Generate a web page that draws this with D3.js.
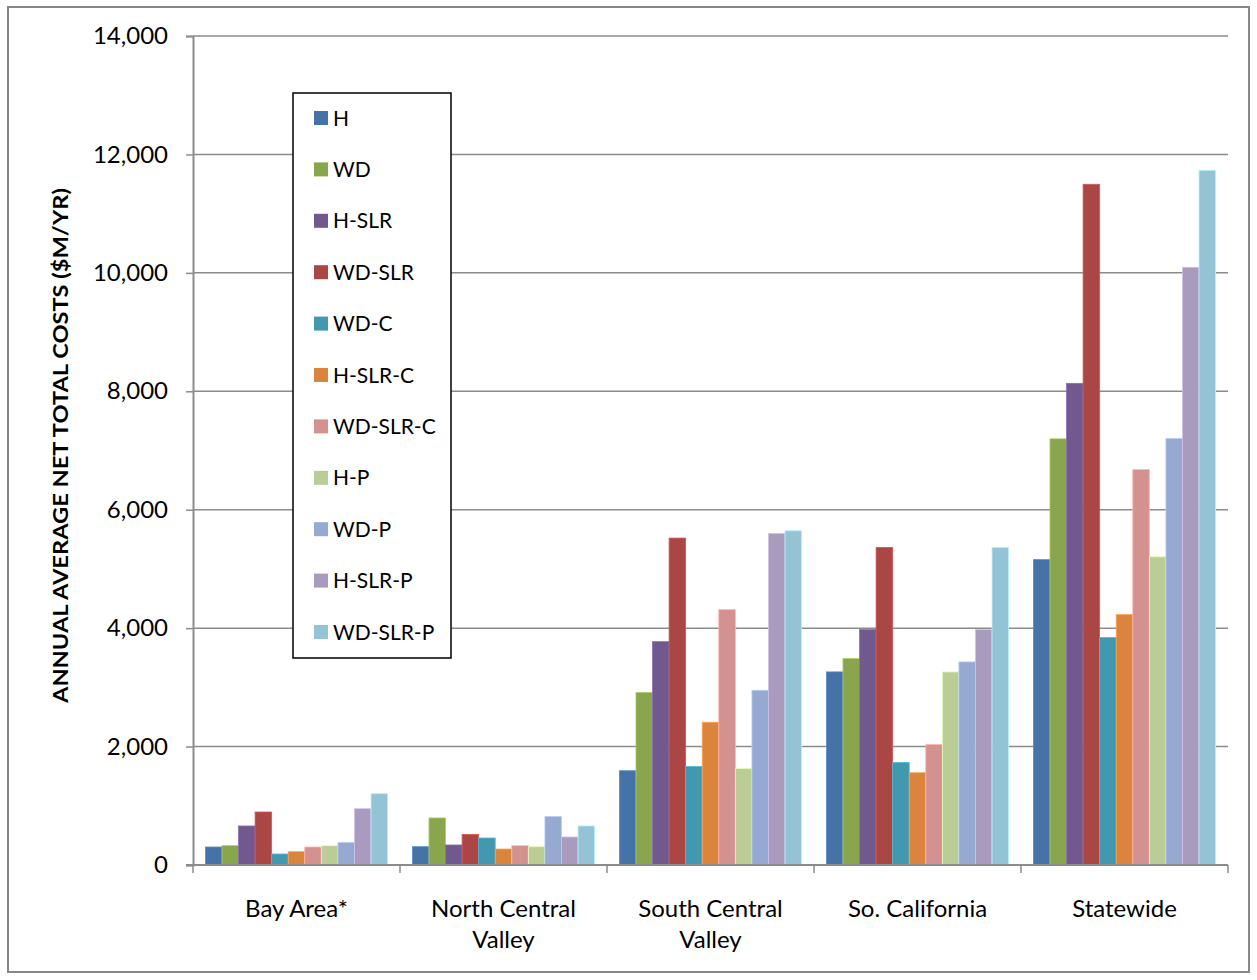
<!DOCTYPE html>
<html>
<head>
<meta charset="utf-8">
<script src="https://cdn.jsdelivr.net/npm/d3@7"></script>
<style>
  html, body { margin: 0; padding: 0; background: #fff; }
  svg { display: block; font-family: Lato, "Open Sans", sans-serif; }
</style>
</head>
<body>
<svg id="chart" width="1257" height="980"></svg>
<script>
// Regions (two-line labels split on "|")
const regions = ["Bay Area*", "North Central|Valley", "South Central|Valley", "So. California", "Statewide"];

// Scenario series
const scenarios = ["H", "WD", "H-SLR", "WD-SLR", "WD-C", "H-SLR-C", "WD-SLR-C", "H-P", "WD-P", "H-SLR-P", "WD-SLR-P"];
const scenarioColors = ["#4572A7", "#89A54E", "#71588F", "#AA4643", "#4198AF", "#DB843D", "#D3928F", "#BACD96", "#96A9D0", "#A99BBD", "#93C3D5"];

// Annual average net total costs ($M/yr), one array per region, ordered as scenarios
const bayArea        = [304, 326, 659, 895, 186, 225, 304, 326, 382, 951, 1204];
const northCentral   = [309, 794, 338, 517, 456, 270, 326, 309, 821, 473, 659];
const southCentral   = [1592, 2912, 3772, 5521, 1664, 2411, 4312, 1631, 2951, 5599, 5644];
const soCalifornia   = [3261, 3486, 3975, 5363, 1732, 1558, 2035, 3261, 3430, 3975, 5363];
const statewide      = [5157, 7197, 8134, 11496, 3843, 4228, 6677, 5205, 7205, 10094, 11732];
const regionValues   = [bayArea, northCentral, southCentral, soCalifornia, statewide];

// Y axis ticks
const yTicks = [0, 2000, 4000, 6000, 8000, 10000, 12000, 14000];

const svg = d3.select("#chart");
const W = 1257, H = 980;
const plot = { left: 193, right: 1228, top: 36, bottom: 865 };

// Outer frame
svg.append("rect")
  .attr("x", 8).attr("y", 7).attr("width", W - 16).attr("height", H - 15)
  .attr("fill", "#fff").attr("stroke", "#878787").attr("stroke-width", 2);

const y = d3.scaleLinear().domain([0, 14000]).range([plot.bottom, plot.top]);
const x0 = d3.scaleBand().domain(regions).range([plot.left, plot.right]).paddingInner(0).paddingOuter(0);
// gap width 150% of a bar on each category
const x1 = d3.scaleBand().domain(scenarios).range([0, x0.bandwidth()])
  .paddingInner(0).paddingOuter(0.75);
const color = d3.scaleOrdinal().domain(scenarios).range(scenarioColors);

// Gridlines
svg.append("g")
  .selectAll("line")
  .data(yTicks.filter(d => d > 0))
  .join("line")
  .attr("x1", plot.left).attr("x2", plot.right)
  .attr("y1", d => y(d)).attr("y2", d => y(d))
  .attr("stroke", "#8c8c8c").attr("stroke-width", 1.5);

// Bars
const groups = svg.append("g")
  .selectAll("g")
  .data(regions.map((r, i) => ({ region: r, values: regionValues[i] })))
  .join("g")
  .attr("transform", d => `translate(${x0(d.region)},0)`);

groups.selectAll("rect")
  .data(d => d.values.map((v, j) => ({ key: scenarios[j], value: v })))
  .join("rect")
  .attr("x", d => x1(d.key))
  .attr("width", x1.bandwidth())
  .attr("y", d => y(d.value))
  .attr("height", d => y(0) - y(d.value))
  .attr("fill", d => color(d.key))
  .attr("stroke", d => d3.color(color(d.key)).brighter(0.6))
  .attr("stroke-width", 0.8);

// Y axis
const yAxis = svg.append("g")
  .attr("transform", `translate(${plot.left},0)`)
  .call(d3.axisLeft(y).tickValues(yTicks).tickFormat(d3.format(",")).tickSize(7).tickPadding(18));
yAxis.select(".domain").attr("stroke", "#8c8c8c").attr("stroke-width", 2);
yAxis.selectAll(".tick line").attr("stroke", "#8c8c8c").attr("stroke-width", 1.5);
yAxis.selectAll(".tick text")
  .attr("fill", "#000").attr("font-size", 24).attr("font-family", "Lato, sans-serif");

// X axis with ticks at category boundaries
const xAxisG = svg.append("g").attr("transform", `translate(0,${plot.bottom})`);
xAxisG.append("line")
  .attr("x1", plot.left - 7).attr("x2", plot.right)
  .attr("stroke", "#8c8c8c").attr("stroke-width", 2);
const bounds = regions.map(r => x0(r)).concat([plot.right]);
xAxisG.selectAll("line.tick")
  .data(bounds)
  .join("line")
  .attr("class", "tick")
  .attr("x1", d => d).attr("x2", d => d)
  .attr("y1", 0).attr("y2", 8)
  .attr("stroke", "#8c8c8c").attr("stroke-width", 1.5);

const xLabels = xAxisG.selectAll("text.cat")
  .data(regions)
  .join("text")
  .attr("class", "cat")
  .attr("x", d => x0(d) + x0.bandwidth() / 2)
  .attr("y", 52)
  .attr("text-anchor", "middle")
  .attr("font-size", 24)
  .attr("fill", "#000");
xLabels.each(function (d) {
  const lines = d.split("|");
  const t = d3.select(this);
  lines.forEach((ln, i) => {
    t.append("tspan").attr("x", x0(d) + x0.bandwidth() / 2).attr("dy", i === 0 ? 0 : 31).text(ln);
  });
});

// Y axis title
svg.append("text")
  .attr("transform", `translate(68,${(plot.top + plot.bottom) / 2 - 5}) rotate(-90)`)
  .attr("text-anchor", "middle")
  .attr("font-size", 21)
  .attr("font-weight", "bold")
  .attr("fill", "#000")
  .attr("textLength", 515)
  .attr("lengthAdjust", "spacingAndGlyphs")
  .text("ANNUAL AVERAGE NET TOTAL COSTS ($M/YR)");

// Legend
const legend = svg.append("g");
legend.append("rect")
  .attr("x", 293).attr("y", 93).attr("width", 158).attr("height", 565)
  .attr("fill", "#fff").attr("stroke", "#000").attr("stroke-width", 1.5);
const legendY = d3.scalePoint().domain(scenarios).range([118, 632]);
const items = legend.selectAll("g.item")
  .data(scenarios)
  .join("g")
  .attr("class", "item")
  .attr("transform", d => `translate(314,${legendY(d)})`);
items.append("rect")
  .attr("x", 0).attr("y", -7).attr("width", 14).attr("height", 14)
  .attr("fill", d => color(d));
items.append("text")
  .attr("x", 19).attr("y", 7.5)
  .attr("font-size", 21)
  .attr("fill", "#000")
  .text(d => d);
</script>
</body>
</html>
